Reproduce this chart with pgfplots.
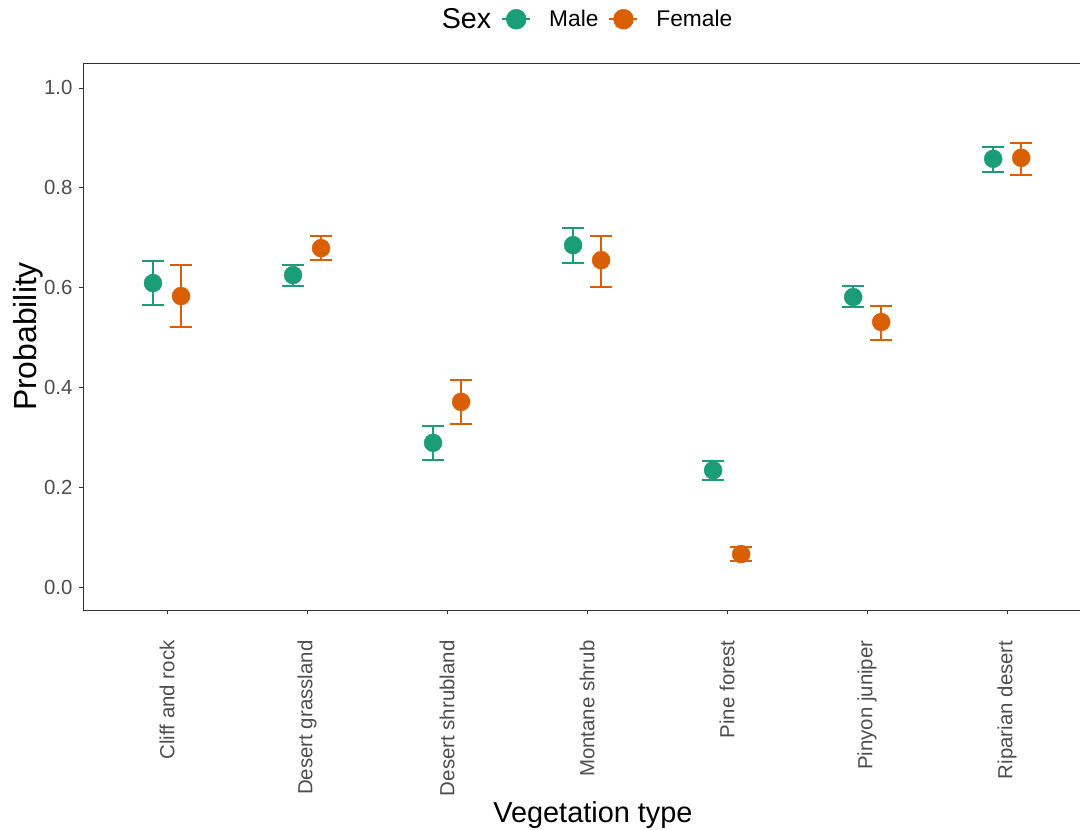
\documentclass[border=0pt]{standalone}
\usepackage{pgfplots}
\pgfplotsset{compat=1.18}
\usepackage{pgfplotstable}
\usepackage{fontspec}
\setmainfont{Liberation Sans}

\definecolor{maleC}{HTML}{1B9E77}
\definecolor{femaleC}{HTML}{D95F02}
\definecolor{axisC}{HTML}{333333}
\definecolor{tickC}{HTML}{4D4D4D}

% habitat index, estimated probability, lower and upper bounds
\pgfplotstableread{
x p lo hi
1 0.609 0.565 0.653
2 0.625 0.603 0.645
3 0.289 0.255 0.323
4 0.685 0.649 0.719
5 0.234 0.214 0.253
6 0.581 0.561 0.603
7 0.858 0.832 0.882
}\maletab

\pgfplotstableread{
x p lo hi
1 0.583 0.521 0.645
2 0.679 0.655 0.703
3 0.371 0.327 0.415
4 0.655 0.601 0.703
5 0.066 0.052 0.080
6 0.531 0.495 0.563
7 0.860 0.826 0.890
}\femaletab

\begin{document}
\begin{tikzpicture}
\begin{axis}[
  name=ax,
  scale only axis,
  width=997bp, height=547bp,
  xmin=0.4, xmax=7.52,
  ymin=-0.046, ymax=1.050,
  xtick={1,2,3,4,5,6,7},
  xticklabels={Cliff and rock, Desert grassland, Desert shrubland, Montane shrub, Pine forest, Pinyon juniper, Riparian desert},
  ytick={0,0.2,0.4,0.6,0.8,1},
  yticklabel style={/pgf/number format/.cd, fixed, fixed zerofill, precision=1},
  /pgf/number format/assume math mode=true,
  tick align=outside,
  xtick pos=bottom, ytick pos=left,
  major tick length=4bp,
  every tick/.style={axisC, line width=0.9bp},
  axis line style={draw=none},
  ticklabel style={font=\fontsize{20.5}{24}\selectfont, text=tickC},
  xticklabel style={rotate=90, anchor=east},
  xticklabel shift=23bp,
  yticklabel shift=3bp,
  xlabel={Vegetation type},
  ylabel={Probability},
  every axis x label/.style={at={(axis description cs:0.5115,-0.375)}, anchor=center, font=\fontsize{29}{33}\selectfont},
  every axis y label/.style={at={(axis description cs:-0.0545,0.5)}, anchor=center, rotate=90, font=\fontsize{32}{36}\selectfont},
  legend columns=-1,
  legend style={at={(axis description cs:0.4975,1.080)}, anchor=center, draw=none, fill=none,
    font=\fontsize{22.8}{26}\selectfont,
    /tikz/every even column/.append style={column sep=8bp},
    /tikz/every odd column/.append style={column sep=16bp}},
  error bars/y dir=both,
  error bars/y explicit,
  error bars/error mark=|,
]
\addlegendimage{empty legend}
\addlegendentry{\fontsize{28.8}{32}\selectfont Sex}

\addplot[only marks, mark=*, mark size=9bp, color=maleC, mark options={fill=maleC, draw=maleC},
  error bars/error bar style={line width=2bp, maleC},
  error bars/error mark options={line width=2bp, mark size=11bp, maleC},
  legend image code/.code={\draw[line width=2bp, maleC] (-2bp,0bp) -- (26bp,0bp); \fill[maleC] (12bp,0bp) circle (10bp);}]
  table[x expr=\thisrow{x}-0.1, y=p,
        y error plus expr=\thisrow{hi}-\thisrow{p},
        y error minus expr=\thisrow{p}-\thisrow{lo}] {\maletab};
\addlegendentry{Male}

\addplot[only marks, mark=*, mark size=9bp, color=femaleC, mark options={fill=femaleC, draw=femaleC},
  error bars/error bar style={line width=2bp, femaleC},
  error bars/error mark options={line width=2bp, mark size=11bp, femaleC},
  legend image code/.code={\draw[line width=2bp, femaleC] (-2bp,0bp) -- (26bp,0bp); \fill[femaleC] (12bp,0bp) circle (10bp);}]
  table[x expr=\thisrow{x}+0.1, y=p,
        y error plus expr=\thisrow{hi}-\thisrow{p},
        y error minus expr=\thisrow{p}-\thisrow{lo}] {\femaletab};
\addlegendentry{Female}
\end{axis}
% panel border: bottom, left and top
\draw[axisC, line width=0.9bp] (ax.south east) -- (ax.south west) -- (ax.north west) -- (ax.north east);
\pgfresetboundingbox
\path ([shift={(-83bp,-219bp)}]ax.south west) rectangle ([shift={(0bp,63bp)}]ax.north east);
\end{tikzpicture}
\end{document}
